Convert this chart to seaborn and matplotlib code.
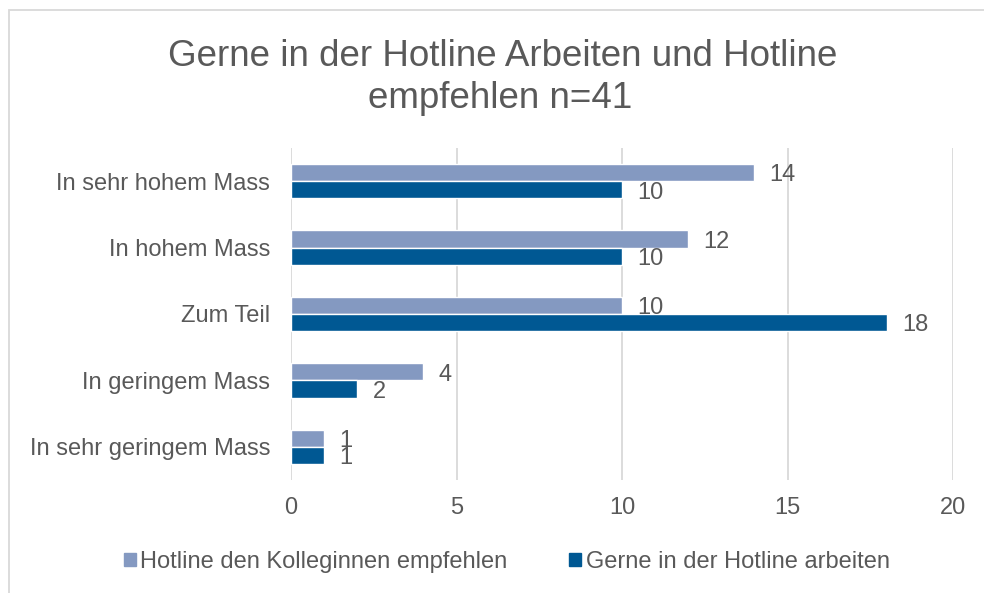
import matplotlib
matplotlib.use('Agg')
import matplotlib.pyplot as plt
import matplotlib.patches as mpatches
import pandas as pd
import seaborn as sns

categories = ['In sehr hohem Mass', 'In hohem Mass', 'Zum Teil', 'In geringem Mass', 'In sehr geringem Mass']
empfehlen = [14, 12, 10, 4, 1]
arbeiten = [10, 10, 18, 2, 1]
series_names = ['Hotline den Kolleginnen empfehlen', 'Gerne in der Hotline arbeiten']
x_ticks = [0, 5, 10, 15, 20]

text_color = '#595959'
grid_color = '#d9d9d9'
colors = ['#8499c1', '#005893']

sns.set_theme(style='white')
plt.rcParams['font.family'] = ['Liberation Sans', 'DejaVu Sans']

df = pd.DataFrame({
    'kategorie': categories * 2,
    'wert': empfehlen + arbeiten,
    'serie': [series_names[0]] * len(categories) + [series_names[1]] * len(categories),
})

fig = plt.figure(figsize=(9.84, 5.93), dpi=100)
ax = fig.add_axes([291 / 984, 1 - 480 / 593, (953 - 291) / 984, (480 - 148) / 593])

sns.barplot(data=df, y='kategorie', x='wert', hue='serie', orient='h',
            palette=colors, width=0.52, gap=0, ax=ax, legend=False, saturation=1)

# data labels, a touch below the bar centre like the original
for cont in ax.containers:
    labels = ax.bar_label(cont, padding=11, fontsize=17, color=text_color)
    for t in labels:
        x, y = t.xyann
        t.xyann = (x, y - 2)

ax.set_xlim(0, 20)
ax.set_ylim(4.5, -0.5)
ax.set_xticks(x_ticks)
ax.xaxis.grid(True, color=grid_color, linewidth=1.3)
ax.set_axisbelow(True)
for s in ax.spines.values():
    s.set_visible(False)
ax.tick_params(axis='both', length=0, labelsize=17, labelcolor=text_color)
ax.tick_params(axis='x', pad=12)
ax.tick_params(axis='y', pad=15)
ax.set_xlabel('')
ax.set_ylabel('')

fig.text(0.5107, 1 - 57 / 593, 'Gerne in der Hotline Arbeiten und Hotline', ha='center', va='center',
         fontsize=26.5, color=text_color)
fig.text(0.5085, 1 - 99 / 593, 'empfehlen n=41', ha='center', va='center',
         fontsize=26.5, color=text_color)

handles = [mpatches.Patch(color=c, label=n) for c, n in zip(colors, series_names)]
fig.legend(handles=handles, loc='center', bbox_to_anchor=(0.515, 1 - 562 / 593), ncol=2,
           frameon=False, fontsize=17, labelcolor=text_color, handlelength=0.5, handleheight=0.5,
           handletextpad=0.2, columnspacing=2.6)

fig.patches.append(mpatches.Rectangle((9 / 984, -0.1), 1.2, 1 - 10 / 593 + 0.1, transform=fig.transFigure,
                                      fill=False, edgecolor=grid_color, linewidth=1.3))

fig.savefig('out.png', dpi=100)
